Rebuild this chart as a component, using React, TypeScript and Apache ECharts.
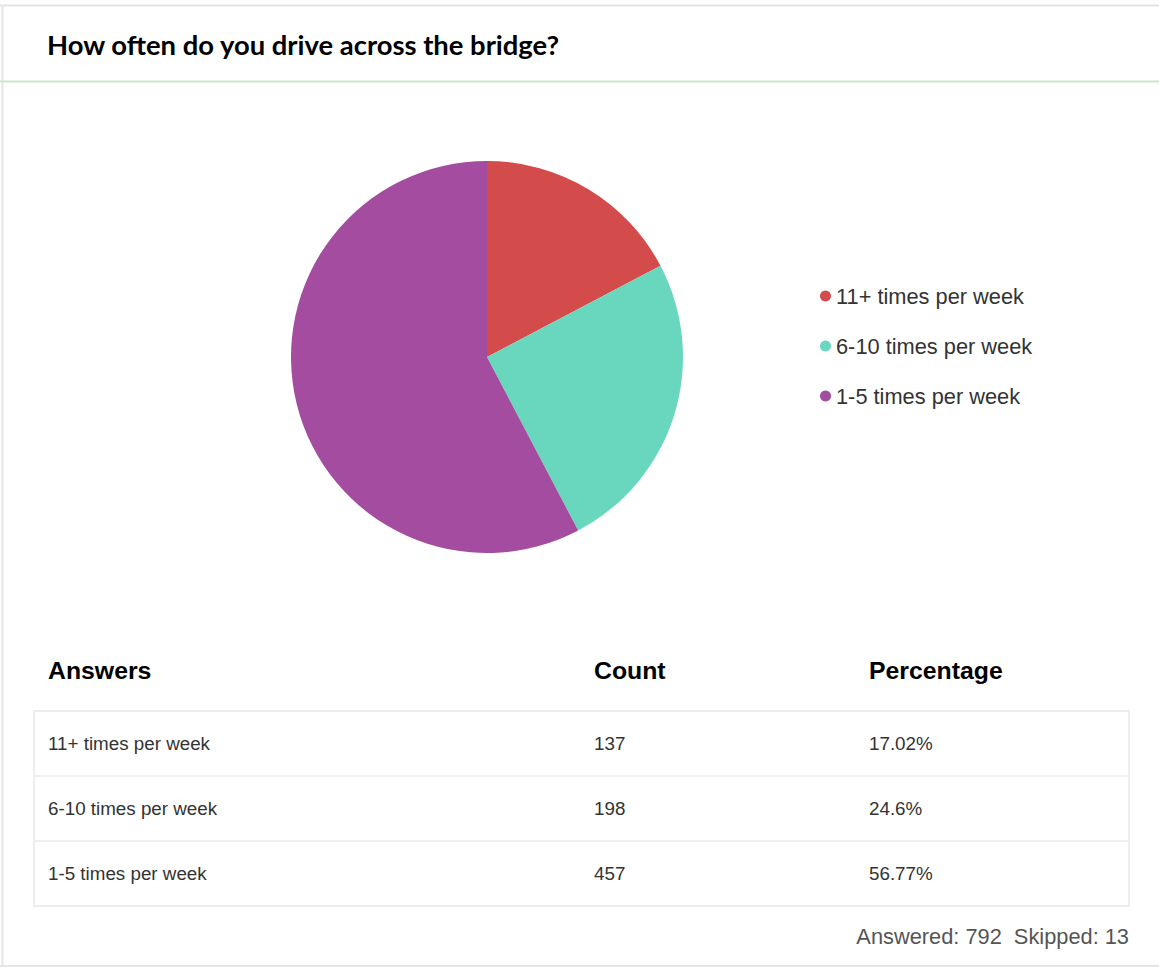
import React, { useEffect, useRef } from "react";
import * as echarts from "echarts";

const title = "How often do you drive across the bridge?";
const categories = ["11+ times per week", "6-10 times per week", "1-5 times per week"];
const counts = [137, 198, 457];
const percentLabels = ["17.02%", "24.6%", "56.77%"];
const colors = ["#d44b4c", "#69d7bd", "#a34ca0"];
const headers = ["Answers", "Count", "Percentage"];
const answered = 792;
const skipped = 13;

const W = 1159;
const H = 967;

export default function App() {
  const ref = useRef<HTMLDivElement>(null);
  useEffect(() => {
    document.body.style.margin = "0";
    const chart = echarts.init(ref.current!, null, { renderer: "svg" });
    const font = "'Liberation Sans', Arial, sans-serif";
    const colX = [48, 594, 869];
    const tableLeft = 34;
    const tableRight = 1129;
    const tableTop = 711;
    const rowH = 65;
    const graphics: any[] = [];
    // page frame
    graphics.push({ type: "rect", shape: { x: 0, y: 0, width: W, height: H }, style: { fill: "#ffffff" }, z: -10 });
    graphics.push({ type: "line", shape: { x1: 0, y1: 5.5, x2: W, y2: 5.5 }, style: { stroke: "#e3e3e3", lineWidth: 2 } });
    graphics.push({ type: "line", shape: { x1: 2.5, y1: 5, x2: 2.5, y2: H }, style: { stroke: "#e6e6e6", lineWidth: 2 } });
    graphics.push({ type: "line", shape: { x1: 0, y1: 81.5, x2: W, y2: 81.5 }, style: { stroke: "#cde6c6", lineWidth: 2 } });
    graphics.push({ type: "line", shape: { x1: 0, y1: 966, x2: W, y2: 966 }, style: { stroke: "#e6e6e6", lineWidth: 2 } });
    // title
    graphics.push({
      type: "text", x: 47, y: 44,
      style: { text: title, fill: "#000", font: "bold 27.4px Lato, 'Open Sans', sans-serif", textVerticalAlign: "middle" },
    });
    // headers
    headers.forEach((h, i) => {
      graphics.push({
        type: "text", x: colX[i], y: 670,
        style: { text: h, fill: "#000", fontFamily: font, fontWeight: "bold", fontSize: 24.8, textVerticalAlign: "middle" },
      });
    });
    // table box
    const nRows = categories.length;
    graphics.push({
      type: "rect",
      shape: { x: tableLeft, y: tableTop, width: tableRight - tableLeft, height: rowH * nRows },
      style: { fill: "none", stroke: "#eceeee", lineWidth: 2 },
    });
    for (let r = 1; r < nRows; r++) {
      const y = tableTop + rowH * r;
      graphics.push({ type: "line", shape: { x1: tableLeft, y1: y, x2: tableRight, y2: y }, style: { stroke: "#eef0f0", lineWidth: 2 } });
    }
    categories.forEach((c, r) => {
      const y = tableTop + rowH * r + rowH / 2;
      const vals = [c, String(counts[r]), percentLabels[r]];
      vals.forEach((v, i) => {
        graphics.push({
          type: "text", x: colX[i], y,
          style: { text: v, fill: "#333", fontFamily: font, fontSize: 18.8, textVerticalAlign: "middle" },
        });
      });
    });
    graphics.push({
      type: "text", x: tableRight, y: 936,
      style: {
        text: `Answered: ${answered}  Skipped: ${skipped}`, fill: "#555", fontFamily: font, fontSize: 21.8,
        textAlign: "right", textVerticalAlign: "middle",
      },
    });

    chart.setOption({
      animation: false,
      color: colors,
      legend: {
        orient: "vertical",
        left: 815,
        top: 280,
        icon: "circle",
        itemWidth: 11,
        itemHeight: 11,
        itemGap: 28,
        textStyle: { fontFamily: font, fontSize: 21.8, color: "#333", lineHeight: 22 },
        data: categories,
      },
      series: [
        {
          type: "pie",
          center: [487, 357],
          radius: 196,
          startAngle: 90,
          clockwise: true,
          label: { show: false },
          labelLine: { show: false },
          itemStyle: { borderWidth: 0 },
          emphasis: { disabled: true },
          data: categories.map((c, i) => ({ name: c, value: counts[i] })),
        },
      ],
      graphic: graphics,
    });
    return () => chart.dispose();
  }, []);
  return <div ref={ref} style={{ width: W, height: H, position: "absolute", left: 0, top: 0 }} />;
}
